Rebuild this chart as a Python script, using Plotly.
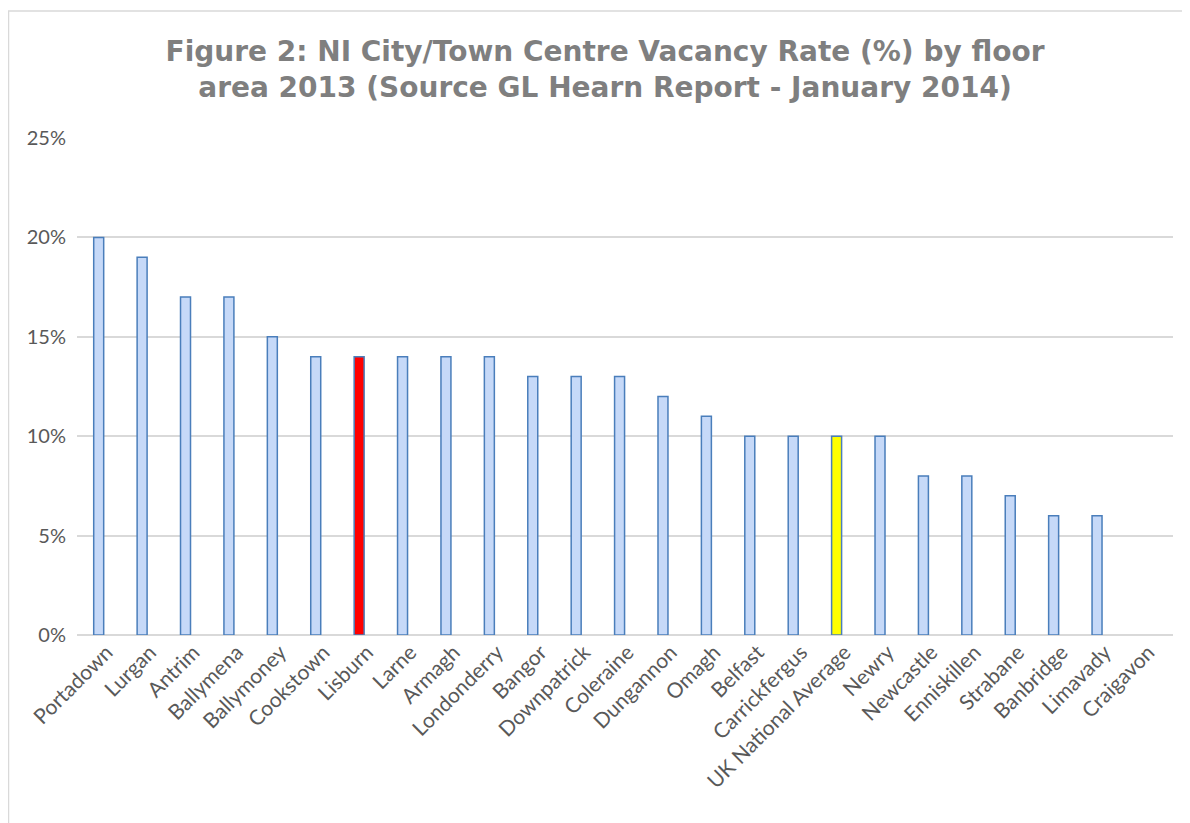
import plotly.graph_objects as go

towns = ["Portadown", "Lurgan", "Antrim", "Ballymena", "Ballymoney", "Cookstown",
         "Lisburn", "Larne", "Armagh", "Londonderry", "Bangor", "Downpatrick",
         "Coleraine", "Dungannon", "Omagh", "Belfast", "Carrickfergus",
         "UK National Average", "Newry", "Newcastle", "Enniskillen", "Strabane",
         "Banbridge", "Limavady", "Craigavon"]
vacancy = [0.20, 0.19, 0.17, 0.17, 0.15, 0.14, 0.14, 0.14, 0.14, 0.14, 0.13, 0.13,
           0.13, 0.12, 0.11, 0.10, 0.10, 0.10, 0.10, 0.08, 0.08, 0.07, 0.06, 0.06, None]
highlight = {"Lisburn": "#ff0000", "UK National Average": "#ffff00"}

# page body has an 8px margin, so figure is drawn 8px right/down
W, H = 1182, 815
ml, mr, mt, mb = 69, 17, 130, 188
pw, ph = W - ml - mr, H - mt - mb

colors = [highlight.get(t, "#c6d9f8") for t in towns]

fig = go.Figure(go.Bar(
    x=towns, y=vacancy,
    marker=dict(color=colors, line=dict(color="#4a7ebb", width=1.5)),
    width=0.23,
))

def px_x(p):
    return (p - ml) / pw

def px_y(p):
    return (H - mb - p) / ph

fig.add_shape(type="rect", xref="paper", yref="paper",
              x0=px_x(0.5), x1=px_x(1195), y0=px_y(830), y1=px_y(3),
              line=dict(color="#d9d9d9", width=1.5), fillcolor="rgba(0,0,0,0)", layer="below")

fig.update_layout(
    width=W, height=H,
    margin=dict(l=ml, r=mr, t=mt, b=mb),
    paper_bgcolor="white", plot_bgcolor="white",
    title=dict(text="Figure 2: NI City/Town Centre Vacancy Rate (%) by floor<br>area 2013 (Source GL Hearn Report - January 2014)",
               x=597 / W, xanchor="center", y=1 - 53 / H, yanchor="middle",
               font=dict(family="DejaVu Sans", size=28, color="#7f7f7f", weight="bold")),
    showlegend=False,
    xaxis=dict(range=[-0.5, 24.75], tickangle=-45, showgrid=False, showline=False,
               ticks="", ticklabelshift=8,
               tickfont=dict(family="Lato, Open Sans", size=21, color="#595959")),
    yaxis=dict(range=[0, 0.25], dtick=0.05, tickformat=".0%", showgrid=True,
               gridcolor="#d9d9d9", gridwidth=1.5, zeroline=True, zerolinecolor="#d9d9d9",
               zerolinewidth=1.5, showline=False, ticks="", ticklabelstandoff=10,
               tickfont=dict(family="Lato, Open Sans", size=20, color="#595959")),
)

fig.write_html("out.html")
